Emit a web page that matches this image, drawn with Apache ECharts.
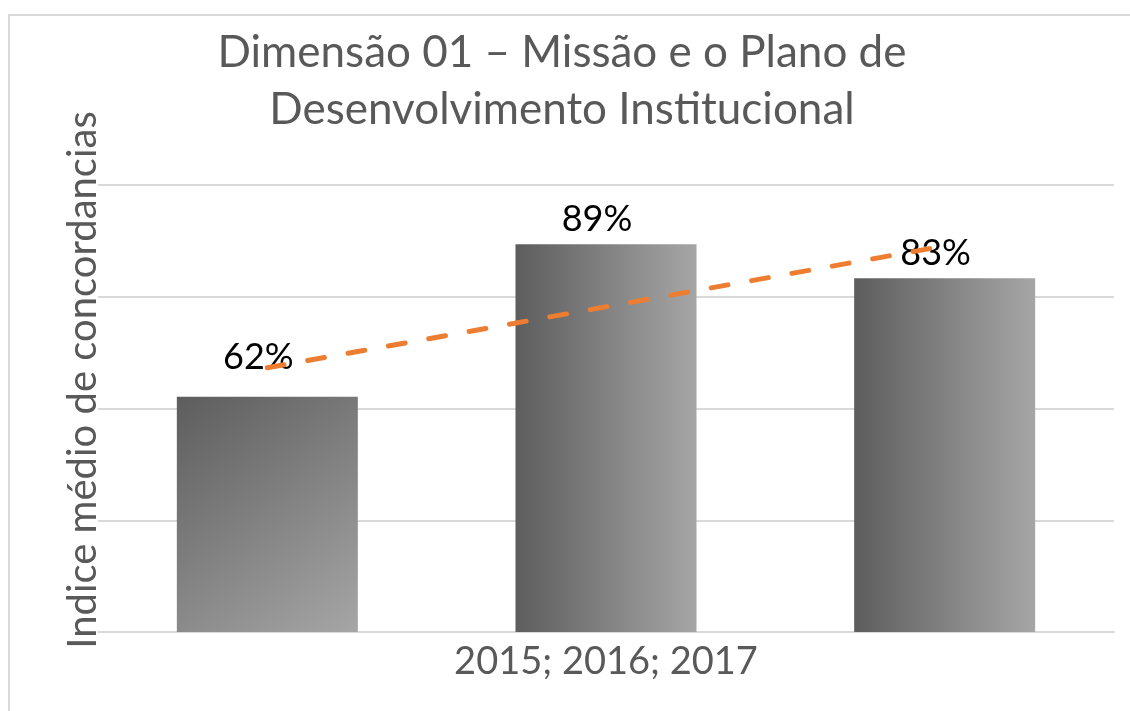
<!DOCTYPE html>
<html>
<head>
<meta charset="utf-8">
<script src="https://cdn.jsdelivr.net/npm/echarts@6/dist/echarts.min.js"></script>
<style>
  html, body { margin: 0; padding: 0; background: #fff; }
  #chart { width: 1130px; height: 711px; }
</style>
</head>
<body>
<div id="chart"></div>
<script>
// dados
const categories = ['2015', '2016', '2017'];
const values = [62.1, 89.4, 83.3];
const trendValues = [67.3, 89.1];
const yTicks = [20, 40, 60, 80, 100];

const chart = echarts.init(document.getElementById('chart'));

// gradiente cinza das barras
const grayGradient = (diag) => new echarts.graphic.LinearGradient(0, 0, 1, diag ? 1 : 0, [
  { offset: 0, color: '#5d5d5d' },
  { offset: 1, color: '#a6a6a6' }
]);

const labelDistance = [21, 7, 7];

const option = {
  backgroundColor: '#fff',
  animation: false,
  title: {
    text: 'Dimensão 01 – Missão e o Plano de\nDesenvolvimento Institucional',
    left: 557,
    top: 19,
    textAlign: 'center',
    textStyle: {
      fontFamily: 'Lato',
      fontWeight: 'normal',
      fontSize: 44,
      lineHeight: 57,
      color: '#595959'
    }
  },
  grid: { left: 98, right: 16, top: 185, bottom: 79 },
  xAxis: {
    type: 'category',
    data: categories,
    name: '2015; 2016; 2017',
    nameLocation: 'middle',
    nameGap: 11,
    nameTextStyle: { fontFamily: 'Lato', fontSize: 38, color: '#595959', verticalAlign: 'top' },
    axisLine: { show: true, lineStyle: { color: '#d9d9d9', width: 2 } },
    axisTick: { show: false },
    axisLabel: { show: false }
  },
  yAxis: {
    type: 'value',
    min: yTicks[0],
    max: yTicks[yTicks.length - 1],
    interval: 20,
    axisLine: { show: false },
    axisTick: { show: false },
    axisLabel: { show: false },
    splitLine: { lineStyle: { color: '#d9d9d9', width: 2 } }
  },
  series: [
    {
      type: 'bar',
      barWidth: 181,
      data: values.map((v, i) => ({
        value: v,
        itemStyle: { color: grayGradient(i === 0) },
        label: { distance: labelDistance[i] }
      })),
      label: {
        show: true,
        position: 'top',
        offset: [-9, 0],
        fontFamily: 'Lato',
        fontSize: 36,
        color: '#000',
        formatter: p => Math.round(p.value) + '%'
      }
    },
    {
      type: 'line',
      data: [[0, trendValues[0]], [2, trendValues[1]]],
      symbol: 'none',
      lineStyle: { color: '#ed7d31', width: 5, type: [17, 24], cap: 'round' },
      z: 5
    }
  ],
  graphic: [
    {
      type: 'rect',
      shape: { x: 9, y: 15, width: 1300, height: 900 },
      style: { fill: 'none', stroke: '#d9d9d9', lineWidth: 2 },
      silent: true
    },
    {
      type: 'text',
      x: 83,
      y: 380,
      rotation: Math.PI / 2,
      style: {
        text: 'Indice médio de concordancias',
        fontFamily: 'Lato',
        fontSize: 40,
        fill: '#595959',
        textAlign: 'center',
        textVerticalAlign: 'middle'
      }
    }
  ]
};

chart.setOption(option);
</script>
</body>
</html>
